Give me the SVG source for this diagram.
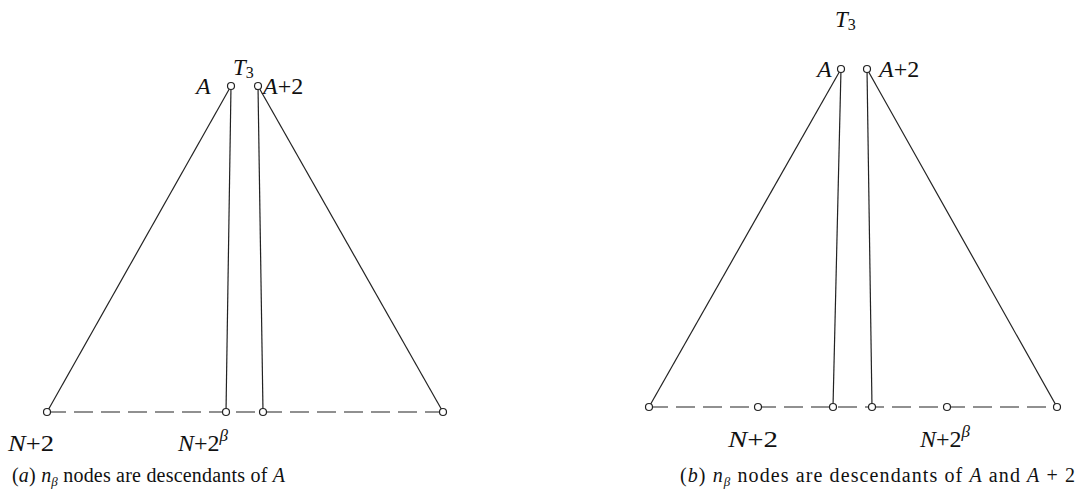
<svg xmlns="http://www.w3.org/2000/svg" width="1081" height="492" viewBox="0 0 1081 492" font-family="Liberation Serif, DejaVu Serif, serif">
<style>
.e{stroke:#222;stroke-width:1.2;fill:none}
.d{stroke:#222;stroke-width:1.2;fill:none;stroke-dasharray:19 8}
.n{fill:#fff;stroke:#222;stroke-width:1.2}
text{font-family:'Liberation Serif','Times New Roman','DejaVu Serif',serif;fill:#111}
.l{font-size:24px}
.i{font-style:italic}
.c{font-size:20px}
</style>
<rect width="1081" height="492" fill="#fff"/>
<g id="connectors">
<line class="d" x1="47" y1="412" x2="443" y2="412"/>
<line class="e" x1="231" y1="86" x2="47" y2="412"/>
<line class="e" x1="231" y1="86" x2="226" y2="412"/>
<line class="e" x1="258" y1="86" x2="263" y2="412"/>
<line class="e" x1="258" y1="86" x2="443" y2="412"/>
<line class="d" x1="649" y1="407" x2="1057" y2="407"/>
<line class="e" x1="841" y1="69" x2="649" y2="407"/>
<line class="e" x1="841" y1="69" x2="833" y2="407"/>
<line class="e" x1="867" y1="69" x2="872" y2="407"/>
<line class="e" x1="867" y1="69" x2="1057" y2="407"/>
</g>
<g id="a-A"><circle class="n" cx="231" cy="86" r="3.5"/><text class="l i" x="196" y="94">A</text></g>
<g id="a-A2"><circle class="n" cx="258" cy="86" r="3.5"/><text class="l" x="263" y="94"><tspan class="i">A</tspan>+2</text></g>
<g id="a-T3"><text x="233" y="75" font-size="23"><tspan class="i">T</tspan><tspan font-size="16" dy="3">3</tspan></text></g>
<g id="a-N2"><circle class="n" cx="47" cy="412" r="3.5"/><text class="l" x="8" y="451" textLength="46" lengthAdjust="spacingAndGlyphs"><tspan class="i">N</tspan>+2</text></g>
<g id="a-N2b"><circle class="n" cx="226" cy="412" r="3.5"/><text class="l" x="178" y="451"><tspan class="i">N</tspan>+2<tspan font-size="17" dy="-10" class="i">β</tspan></text></g>
<g id="a-m"><circle class="n" cx="263" cy="412" r="3.5"/></g>
<g id="a-r"><circle class="n" cx="443" cy="412" r="3.5"/></g>
<g id="b-A"><circle class="n" cx="841" cy="69" r="3.5"/><text class="l i" x="817" y="77">A</text></g>
<g id="b-A2"><circle class="n" cx="867" cy="69" r="3.5"/><text class="l" x="879" y="77"><tspan class="i">A</tspan>+2</text></g>
<g id="b-T3"><text x="835" y="27" font-size="23"><tspan class="i">T</tspan><tspan font-size="16" dy="3">3</tspan></text></g>
<g id="b-l"><circle class="n" cx="649" cy="407" r="3.5"/></g>
<g id="b-N2"><circle class="n" cx="758" cy="407" r="3.5"/><text class="l" x="728" y="447" textLength="50" lengthAdjust="spacingAndGlyphs"><tspan class="i">N</tspan>+2</text></g>
<g id="b-m1"><circle class="n" cx="833" cy="407" r="3.5"/></g>
<g id="b-m2"><circle class="n" cx="872" cy="407" r="3.5"/></g>
<g id="b-N2b"><circle class="n" cx="947" cy="407" r="3.5"/><text class="l" x="920" y="447"><tspan class="i">N</tspan>+2<tspan font-size="17" dy="-10" class="i">β</tspan></text></g>
<g id="b-r"><circle class="n" cx="1057" cy="407" r="3.5"/></g>
<g id="captions">
<text class="c" x="12" y="482" textLength="273" lengthAdjust="spacing">(<tspan class="i">a</tspan>) <tspan class="i">n</tspan><tspan class="i" font-size="13" dy="4">β</tspan><tspan dy="-4"> nodes are descendants of </tspan><tspan class="i">A</tspan></text>
<text class="c" x="680" y="482" textLength="395" lengthAdjust="spacing">(<tspan class="i">b</tspan>) <tspan class="i">n</tspan><tspan class="i" font-size="13" dy="4">β</tspan><tspan dy="-4"> nodes are descendants of </tspan><tspan class="i">A</tspan> and <tspan class="i">A</tspan> + 2</text>
</g>
</svg>
